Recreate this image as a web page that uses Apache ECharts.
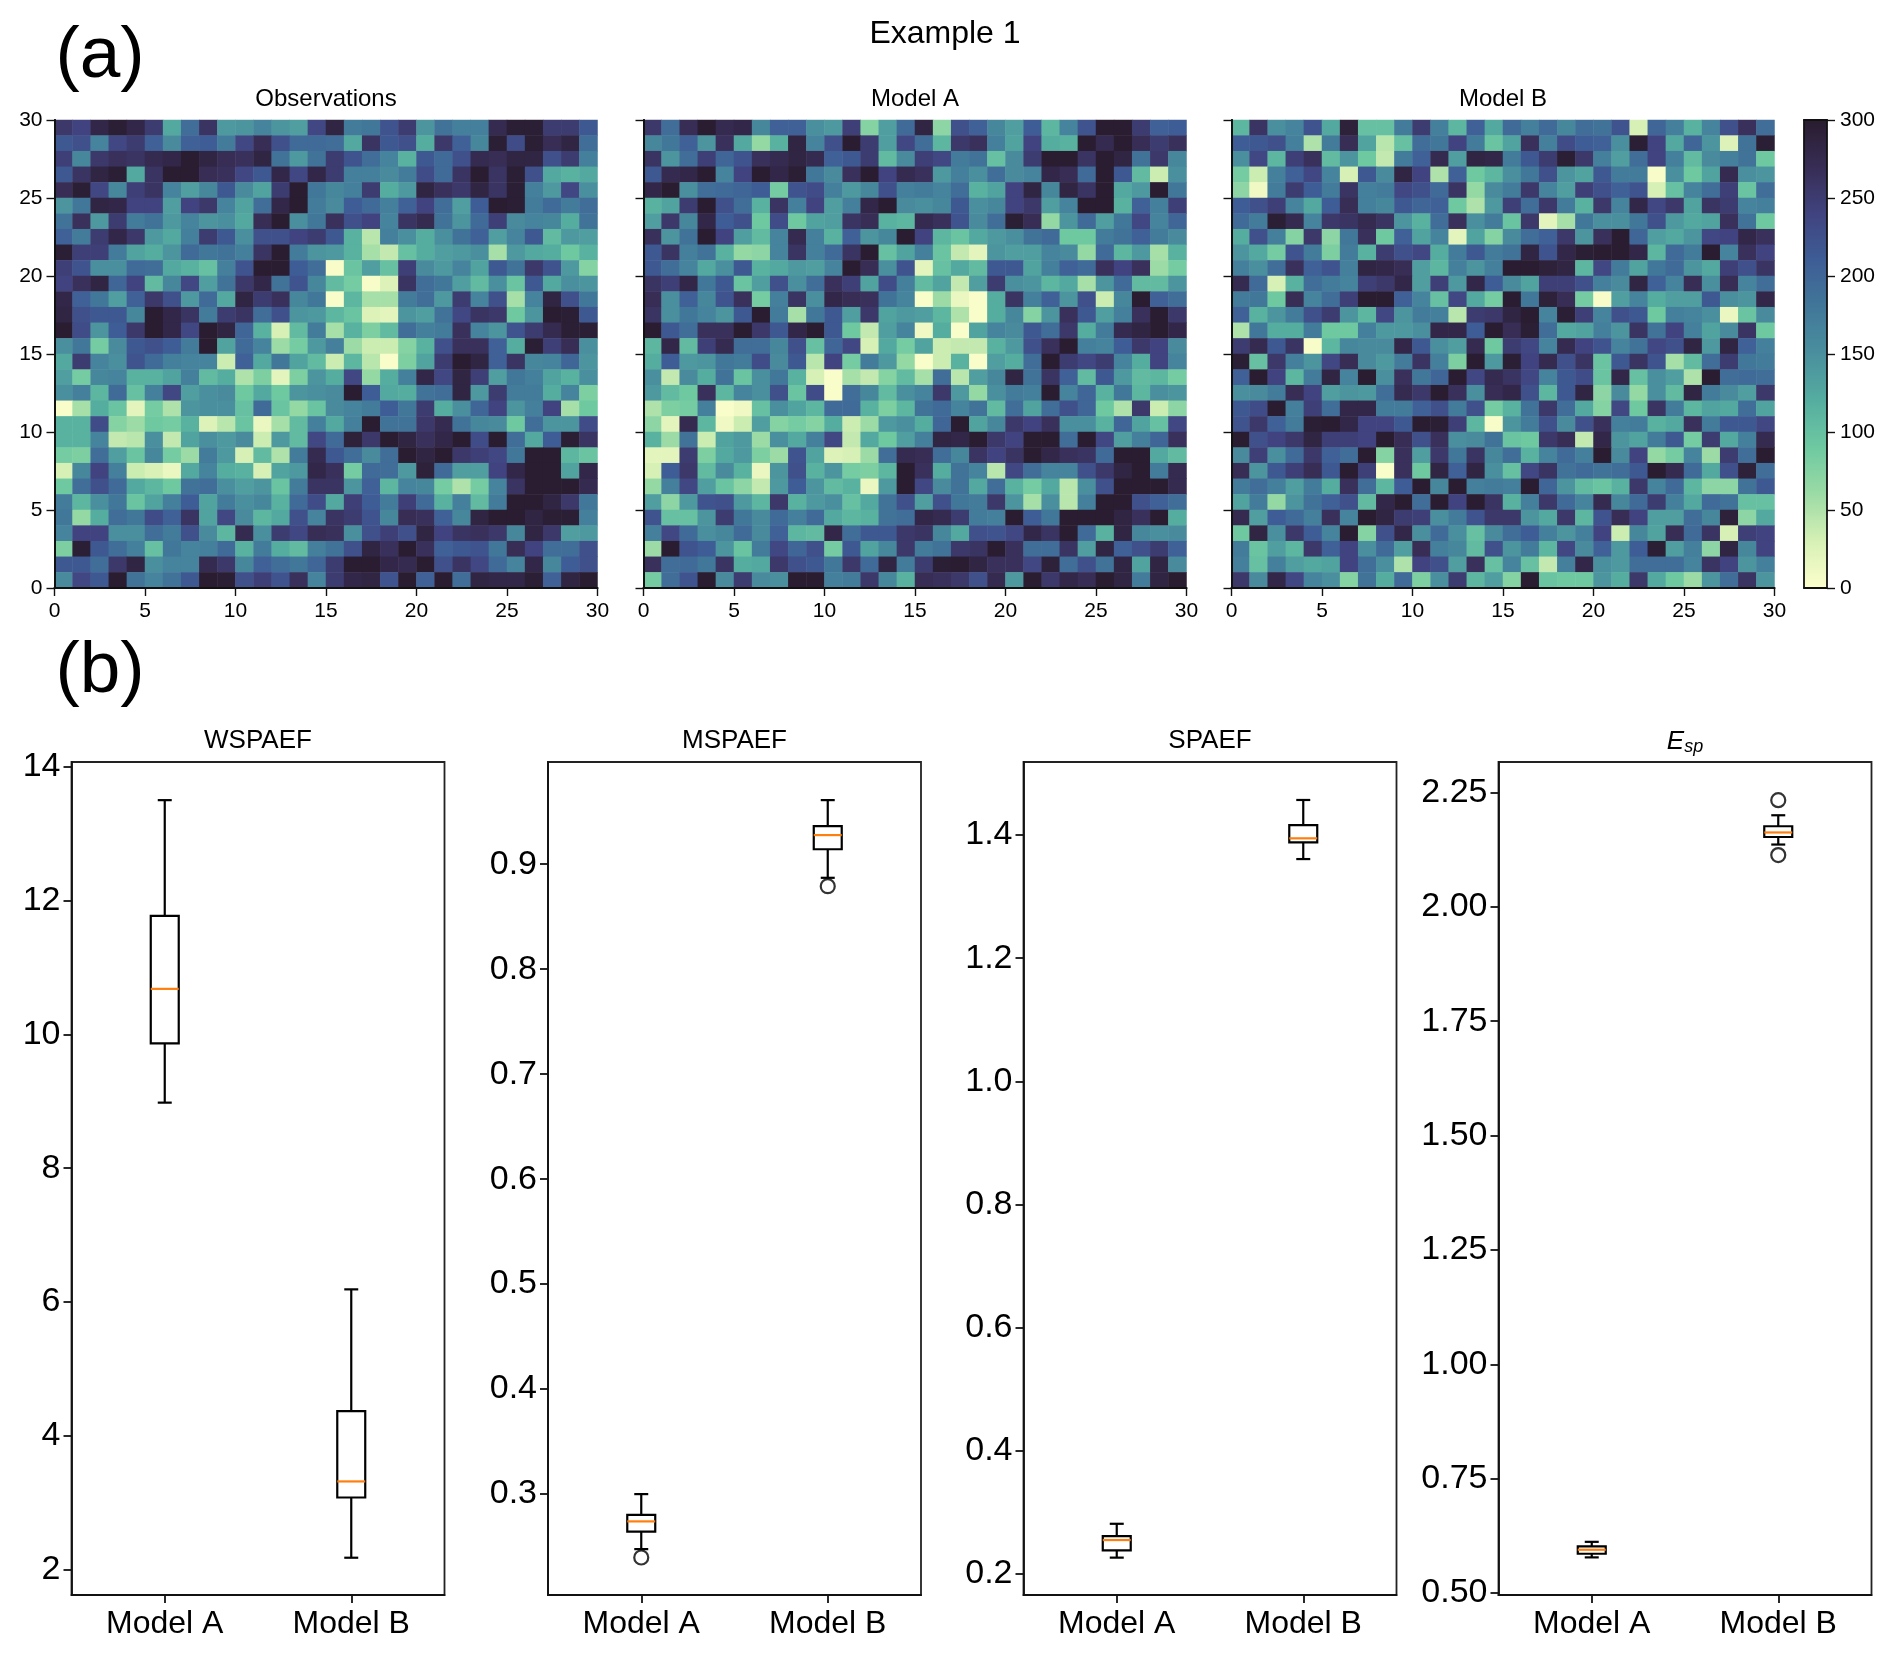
<!DOCTYPE html>
<html><head><meta charset="utf-8">
<style>html,body{margin:0;padding:0;background:#fff}#c{width:1892px;height:1654px}</style>
<script src="https://cdn.jsdelivr.net/npm/echarts@6/dist/echarts.min.js"></script>
</head><body><div id="c"></div>
<script>
const mapTitles=['Observations','Model A','Model B'];
const boxTitles=['WSPAEF','MSPAEF','SPAEF','{e|E}{s|sp}'];
const models=['Model A','Model B'];
const mapTicks=[0,5,10,15,20,25,30];
const cbarTicks=[0,50,100,150,200,250,300];
// rows listed from top (y 29-30) to bottom (y 0-1)
const obsValues=[
[255,240,280,295,280,250,125,190,260,140,145,165,145,135,235,285,175,180,220,250,145,185,170,170,275,295,295,250,250,215],
[215,225,165,235,250,205,155,205,210,175,235,270,225,195,195,190,125,260,215,225,120,255,205,160,295,230,295,270,285,190],
[245,160,255,265,260,275,280,298,285,270,265,285,185,140,185,250,220,190,165,115,215,195,225,275,270,285,285,225,250,170],
[215,260,285,295,125,260,298,298,270,265,235,215,280,235,280,250,170,170,155,175,230,195,260,298,260,295,225,125,115,125],
[270,295,235,160,245,260,165,135,160,215,155,130,250,298,180,160,170,250,120,140,285,265,255,285,260,295,170,140,235,150],
[145,180,285,280,240,240,135,240,255,165,130,190,280,298,175,155,210,195,170,205,240,190,135,210,298,295,175,195,175,190],
[185,265,140,250,175,185,140,165,145,150,125,270,298,150,180,265,225,240,165,260,275,185,145,195,245,155,165,160,120,185],
[205,175,250,280,255,140,125,170,250,215,150,225,225,240,250,215,115,45,170,150,120,150,185,205,135,165,215,105,140,135],
[295,245,245,175,130,120,145,195,180,185,170,260,298,175,145,140,115,55,40,100,120,135,140,150,55,140,125,120,90,115],
[245,220,150,150,195,190,125,115,100,170,220,298,298,210,190,5,95,135,100,245,155,140,165,130,215,185,255,220,140,75],
[240,265,285,200,240,105,160,235,135,185,255,280,185,220,160,105,85,5,25,260,190,180,135,105,150,95,215,125,150,145],
[280,205,180,135,205,255,225,140,195,125,285,250,265,160,180,3,110,55,55,175,190,140,250,165,225,55,165,285,225,180],
[285,225,215,215,160,298,280,260,175,250,260,190,225,145,140,110,95,25,20,145,135,185,235,260,255,90,145,298,295,215],
[298,230,145,210,255,298,280,235,298,285,200,115,30,105,175,55,115,80,105,190,170,175,265,165,145,220,250,275,295,295],
[150,180,85,155,215,225,210,175,298,130,195,165,60,85,140,170,60,35,35,75,115,225,265,265,205,120,295,245,270,150],
[125,250,165,150,220,195,170,165,165,35,205,125,180,130,105,35,110,45,3,80,130,250,298,285,205,260,160,165,200,145],
[135,85,160,165,115,115,130,170,105,120,50,80,20,80,145,120,235,65,120,170,280,235,285,245,135,180,170,130,115,150],
[150,170,110,195,100,170,235,135,150,155,90,125,90,145,150,155,298,210,125,120,185,190,285,140,250,175,175,120,165,80],
[3,55,120,95,20,85,50,145,150,150,100,195,95,65,95,155,165,175,210,180,250,120,150,200,240,145,170,240,55,90],
[115,115,230,75,60,90,85,115,25,45,95,15,55,105,170,125,170,298,185,185,255,275,185,160,155,90,190,145,145,230],
[115,115,165,40,45,150,40,130,150,140,155,35,140,105,235,195,290,255,298,285,265,280,298,230,298,190,125,210,295,260],
[85,80,190,135,95,160,85,60,175,140,30,105,50,175,275,215,190,155,190,298,285,298,255,245,235,180,298,298,110,95],
[30,160,240,170,35,28,15,125,165,120,115,30,130,140,280,265,85,195,190,140,290,195,135,135,240,280,298,298,130,280],
[90,190,225,195,125,110,90,185,190,150,135,145,95,175,260,260,145,205,110,165,160,85,50,85,165,260,298,298,298,275],
[175,110,150,180,95,130,170,210,130,175,150,160,115,195,230,125,245,210,175,245,195,115,170,105,175,298,298,285,255,180],
[180,65,120,190,180,230,205,260,130,235,155,110,125,225,165,260,250,220,160,270,265,205,160,285,298,298,285,295,295,170],
[165,240,240,150,150,190,175,225,155,110,275,150,250,235,270,265,150,225,245,225,285,240,260,265,255,160,285,255,135,140],
[80,295,215,190,170,100,180,165,170,195,115,175,120,105,170,185,225,285,265,298,265,205,215,220,180,270,240,190,190,225],
[215,215,190,255,285,150,165,165,275,255,160,205,190,180,200,250,298,298,280,275,298,225,260,235,195,165,280,160,210,225],
[155,235,215,298,185,165,185,215,298,295,225,245,220,265,165,250,280,285,220,298,205,298,190,285,280,280,295,205,285,298]
];
const modelAValues=[
[255,190,270,298,275,280,160,205,205,150,140,245,75,135,195,285,70,225,205,160,135,210,110,165,220,298,298,250,205,210],
[160,180,205,145,265,125,65,115,285,165,225,298,250,135,235,190,110,255,265,170,130,240,120,115,298,275,298,270,250,265],
[260,145,190,245,200,220,265,275,285,275,205,215,250,105,155,245,235,175,185,100,155,250,298,298,260,298,285,185,255,160],
[215,275,280,298,165,240,298,280,295,180,155,265,298,240,275,265,140,170,150,190,155,165,280,270,195,298,215,105,35,150],
[280,298,150,190,195,200,210,85,220,230,170,140,160,225,170,175,165,190,115,130,240,285,160,285,260,298,125,140,298,180],
[115,130,250,298,225,190,115,260,170,240,135,170,280,298,155,150,160,215,150,160,240,255,135,165,298,298,115,205,170,245],
[135,255,160,280,210,225,90,230,90,130,135,260,270,115,110,275,265,220,155,190,295,270,65,145,195,135,180,235,165,200],
[265,145,185,298,240,135,105,165,275,170,115,205,145,160,298,240,110,95,125,140,150,185,195,90,90,175,185,205,175,155],
[215,260,170,185,115,65,70,165,260,170,195,260,298,100,130,170,95,40,20,145,135,135,165,155,65,195,110,140,55,115],
[215,190,165,125,150,215,115,125,140,135,165,298,270,150,220,20,100,125,105,215,215,130,170,205,195,265,240,265,60,85],
[260,245,280,180,215,95,135,225,150,190,265,245,130,230,170,105,130,40,135,250,150,145,110,125,55,145,195,105,105,145],
[270,150,205,160,220,265,85,170,260,150,280,270,265,185,165,3,60,15,3,120,260,170,205,145,225,35,160,298,205,190],
[260,150,180,165,145,215,298,175,55,180,215,135,255,130,140,135,110,50,3,120,160,75,145,265,215,135,170,265,298,255],
[298,215,190,265,265,298,255,215,280,298,215,90,40,135,165,10,120,3,130,165,155,215,190,255,120,175,275,285,298,280],
[110,280,105,245,275,190,190,160,225,100,200,235,30,125,85,130,35,40,40,115,140,225,265,298,170,165,210,255,240,155],
[120,210,140,145,180,175,230,155,215,45,240,85,175,140,65,3,35,115,3,135,120,190,298,250,235,250,165,120,240,165],
[150,40,155,120,185,95,150,180,115,30,3,55,40,75,105,55,190,45,135,160,285,185,260,205,105,215,140,105,110,85],
[140,105,90,265,110,165,150,225,95,230,3,190,160,105,150,165,255,140,65,150,175,170,298,165,200,115,180,110,150,145],
[50,80,85,170,3,10,100,150,130,110,195,195,115,80,110,185,195,165,185,105,190,130,190,225,200,90,50,255,35,70],
[70,20,275,110,10,35,135,75,85,75,120,35,60,140,150,120,200,298,130,160,255,240,265,150,150,115,200,130,100,235],
[115,60,185,35,130,140,60,150,125,170,235,40,125,90,135,170,285,280,298,255,240,298,298,190,298,235,135,170,200,265],
[20,20,250,80,125,140,80,60,220,130,25,30,60,190,275,270,190,160,260,240,260,298,280,265,260,195,298,298,125,105],
[30,210,255,105,155,115,15,145,225,115,145,85,80,110,298,265,120,185,165,45,235,190,165,165,225,255,285,298,175,275],
[65,170,235,135,95,70,40,140,210,145,105,115,15,140,298,235,155,185,125,190,115,85,125,45,150,225,298,298,298,275],
[135,70,140,220,225,140,110,255,115,140,150,100,125,185,225,135,225,180,175,255,145,55,150,45,170,298,298,225,205,190],
[220,100,100,145,250,180,155,195,170,195,125,110,115,185,190,280,275,250,175,170,298,210,180,298,298,298,285,265,298,120],
[170,235,195,150,160,195,155,205,110,105,280,190,215,215,255,260,160,125,225,220,235,280,260,298,195,115,285,160,150,155],
[60,298,220,210,145,95,175,235,200,225,85,215,130,160,255,175,185,255,260,298,265,190,190,260,135,285,205,225,250,205],
[265,190,195,180,260,120,125,255,225,215,180,255,195,285,175,250,295,298,285,265,265,235,290,190,225,185,285,130,285,155],
[85,190,220,298,155,250,155,150,298,298,170,175,255,160,115,270,265,255,225,275,140,298,255,280,270,298,285,175,285,298]
];
const modelBValues=[
[110,260,150,165,220,125,290,100,100,175,250,170,110,205,125,195,170,195,160,190,185,220,30,200,170,115,165,225,265,190],
[210,215,225,170,50,175,270,130,45,100,190,180,240,175,95,130,265,170,230,210,205,150,295,240,125,200,145,25,185,295],
[150,235,110,245,265,105,145,90,40,175,205,275,135,285,280,175,215,250,295,255,170,135,190,240,170,105,155,170,185,90],
[85,35,170,205,235,165,30,215,155,285,240,50,205,90,110,150,180,225,145,130,215,175,175,5,150,90,130,275,150,145],
[70,10,175,250,210,175,260,170,175,235,225,195,260,65,155,175,255,165,135,245,225,205,220,30,100,165,190,245,95,190],
[210,225,245,165,125,210,270,170,160,215,200,205,90,50,140,245,190,255,175,115,255,165,280,235,255,130,260,250,165,170],
[195,175,295,275,165,255,260,275,260,145,115,190,265,150,175,95,255,20,55,180,150,150,180,225,140,125,130,265,185,90],
[120,225,170,75,255,70,180,265,90,205,130,165,20,130,75,155,190,205,255,145,265,298,200,135,125,145,235,240,280,265],
[145,125,85,220,175,80,175,115,250,225,235,120,175,215,175,185,285,220,280,295,298,298,280,110,195,175,298,165,265,240],
[170,150,190,265,205,220,170,285,280,270,135,110,170,145,170,298,298,290,285,110,235,175,130,180,195,145,125,245,225,260],
[275,195,30,115,190,175,165,245,255,280,135,245,140,280,210,155,130,245,245,225,170,155,285,205,165,270,150,270,165,190],
[175,180,90,270,165,190,245,298,298,205,165,100,235,125,85,298,180,290,270,85,5,135,165,120,135,135,215,150,145,280],
[205,115,145,175,225,250,145,110,235,145,175,170,45,250,255,285,298,165,295,245,165,225,215,90,170,165,150,15,95,155],
[50,180,120,120,175,90,90,170,140,140,150,280,280,210,298,270,295,190,125,130,170,145,260,185,240,170,130,155,260,90],
[250,275,215,260,5,110,160,155,155,280,215,150,135,275,90,250,235,165,275,240,220,165,185,235,225,285,140,285,205,170],
[295,100,255,170,145,235,270,155,140,175,260,170,80,298,140,295,240,275,225,260,95,215,260,220,55,105,190,250,180,175],
[205,298,240,110,175,285,165,298,150,265,180,200,298,235,275,260,235,165,215,230,95,280,100,150,135,50,298,190,195,190],
[150,155,175,270,240,135,145,140,190,275,255,298,265,150,270,280,225,110,215,285,70,155,65,150,105,285,175,155,135,255],
[215,230,298,170,245,190,280,280,175,175,205,225,175,225,85,115,185,255,190,125,75,235,90,260,175,110,130,125,190,130],
[220,255,205,175,295,298,280,240,240,215,298,295,245,110,5,145,175,225,155,225,265,170,175,115,125,265,175,215,215,235],
[298,225,240,255,285,245,245,240,298,270,225,265,150,155,185,95,90,255,270,40,280,145,130,175,215,85,250,125,170,275],
[155,245,150,195,255,205,190,298,75,265,135,255,180,260,160,190,115,165,195,170,298,155,240,65,85,165,60,250,190,298],
[270,145,215,245,270,215,298,245,3,265,90,285,205,285,150,100,235,260,185,195,185,190,215,298,275,195,125,225,290,190],
[175,190,170,135,175,120,265,190,110,210,298,160,298,170,175,170,298,200,145,105,95,115,255,165,195,110,70,70,185,215],
[130,175,65,145,185,205,225,105,280,298,190,298,240,298,260,115,170,255,195,165,275,160,195,250,170,125,195,185,100,100],
[275,135,210,195,170,265,165,298,285,250,245,150,175,220,255,255,145,125,255,110,220,270,240,135,135,190,160,290,70,125],
[90,285,150,255,210,165,298,75,225,280,150,195,150,100,155,190,210,170,145,170,240,35,160,130,270,195,260,30,245,240],
[175,95,135,110,255,205,240,150,195,135,270,170,160,105,225,145,175,110,235,155,205,140,210,295,135,170,70,285,160,240],
[170,100,170,135,125,130,240,190,150,50,240,225,135,265,100,165,100,40,170,280,150,140,190,190,190,165,260,240,145,170],
[255,155,280,235,165,150,75,185,120,195,80,150,250,110,135,75,298,95,90,90,145,120,255,125,90,60,145,190,260,145]
];
// each box: [category index, low whisker, Q1, median, Q3, high whisker]
const wspaefBoxes=[[0,8.98,9.865,10.68,11.77,13.5],[1,2.18,3.08,3.32,4.37,6.19]];
const mspaefBoxes=[[0,0.2476,0.2643,0.274,0.2803,0.30],[1,0.887,0.9142,0.9277,0.9363,0.961]];
const spaefBoxes=[[0,0.226,0.2378,0.2546,0.261,0.281],[1,1.361,1.388,1.3947,1.416,1.457]];
const espBoxes=[[0,0.578,0.586,0.5947,0.602,0.612],[1,2.136,2.1525,2.1624,2.176,2.2]];
const wspaefOutliers=[];
const mspaefOutliers=[[0,0.2396],[1,0.879]];
const spaefOutliers=[];
const espOutliers=[[1,2.233],[1,2.113]];
const wspaefTicks=[2,4,6,8,10,12,14];
const mspaefTicks=[0.3,0.4,0.5,0.6,0.7,0.8,0.9];
const spaefTicks=[0.2,0.4,0.6,0.8,1.0,1.2,1.4];
const espTicks=[0.5,0.75,1.0,1.25,1.5,1.75,2.0,2.25];

const FONT='"Liberation Sans",Arial,sans-serif', INK='#111111';
const DEEP=['#fdfecc','#d6f0b5','#9cdba5','#6ec9a1','#55ada0','#4a8f9e','#417799','#3e5d96','#40437f','#372d55','#291c2e'];
const mapLefts=[54.5,643.5,1231.5], mapTop=120, mapW=543, mapH=468;
const boxLefts=[71.5,548,1023.5,1498.5], boxTop=762, boxW=373, boxH=833;
const boxRanges=[[1.623,14.07],[0.2039,0.9973],[0.1653,1.5187],[0.4958,2.3164]];
const boxDigits=[0,1,1,2];
const boxSets=[wspaefBoxes,mspaefBoxes,spaefBoxes,espBoxes];
const outSets=[wspaefOutliers,mspaefOutliers,spaefOutliers,espOutliers];
const tickSets=[wspaefTicks,mspaefTicks,spaefTicks,espTicks];
const idx30=Array.from({length:30},(_,i)=>i);
const line=(w=1.8)=>({lineStyle:{color:INK,width:w}});

const grid=[],xAxis=[],yAxis=[],series=[],title=[];
const text=(t,x,y,size,extra={})=>title.push({text:t,left:x,top:y,textAlign:'center',textVerticalAlign:'middle',padding:0,
  textStyle:Object.assign({fontFamily:FONT,fontSize:size,fontWeight:'normal',color:'#000'},extra)});
text('Example 1',945,34,32);
text('(a)',100,57,73);
text('(b)',100,672,73);

[obsValues,modelAValues,modelBValues].forEach((rows,k)=>{
  const g=grid.length;
  grid.push({left:mapLefts[k],top:mapTop,width:mapW,height:mapH,show:false});
  text(mapTitles[k],mapLefts[k]+mapW/2,99,24);
  const xi=xAxis.length, yi=yAxis.length;
  xAxis.push({type:'category',gridIndex:g,position:'top',data:idx30,z:5,axisLine:Object.assign({show:true},line()),axisTick:{show:false},axisLabel:{show:false},splitLine:{show:false}});
  xAxis.push({type:'value',gridIndex:g,position:'bottom',min:0,max:30,interval:5,z:5,axisLine:Object.assign({show:true,onZero:false},line()),
    axisTick:Object.assign({show:true,length:8},line(1.4)),axisLabel:{show:true,fontFamily:FONT,fontSize:21,color:'#000',margin:13},splitLine:{show:false}});
  yAxis.push({type:'category',gridIndex:g,position:'right',data:idx30,z:5,axisLine:Object.assign({show:true},line()),axisTick:{show:false},axisLabel:{show:false},splitLine:{show:false}});
  yAxis.push({type:'value',gridIndex:g,position:'left',min:0,max:30,interval:5,z:5,axisLine:Object.assign({show:true,onZero:false},line()),
    axisTick:Object.assign({show:true,length:8},line(1.4)),axisLabel:{show:k===0,fontFamily:FONT,fontSize:21,color:'#000',margin:12},splitLine:{show:false}});
  const data=[];
  rows.forEach((r,ri)=>r.forEach((v,ci)=>data.push([ci,29-ri,v])));
  series.push({type:'heatmap',xAxisIndex:xi,yAxisIndex:yi,data,silent:true,progressive:0,emphasis:{disabled:true}});
});

// colour bar frame and ticks
{
  const g=grid.length;
  grid.push({left:1804,top:mapTop,width:23,height:mapH,show:false});
  xAxis.push({type:'value',gridIndex:g,position:'top',min:0,max:1,z:5,axisLine:Object.assign({show:true,onZero:false},line()),axisTick:{show:false},axisLabel:{show:false},splitLine:{show:false}});
  xAxis.push({type:'value',gridIndex:g,position:'bottom',min:0,max:1,z:5,axisLine:Object.assign({show:true,onZero:false},line()),axisTick:{show:false},axisLabel:{show:false},splitLine:{show:false}});
  yAxis.push({type:'value',gridIndex:g,position:'left',min:0,max:300,interval:50,z:5,axisLine:Object.assign({show:true,onZero:false},line()),axisTick:{show:false},axisLabel:{show:false},splitLine:{show:false}});
  yAxis.push({type:'value',gridIndex:g,position:'right',min:0,max:300,interval:50,z:5,axisLine:Object.assign({show:true,onZero:false},line()),
    axisTick:Object.assign({show:true,length:8},line(1.4)),axisLabel:{show:true,fontFamily:FONT,fontSize:21,color:'#000',margin:13},splitLine:{show:false}});
}

function drawBox(params,api){
  const [x,lo,q1,med,q3,hi]=[0,1,2,3,4,5].map(i=>api.value(i));
  const band=api.size([1,0])[0], bw=band*0.15, cw=bw/2;
  const p=v=>api.coord([x,v]), cx=p(lo)[0];
  const seg=(a,b,ya,yb,color)=>({type:'line',shape:{x1:a,y1:ya,x2:b,y2:yb},style:{stroke:color,lineWidth:2.2,fill:null}});
  const yl=p(lo)[1],y1=p(q1)[1],ym=p(med)[1],y3=p(q3)[1],yh=p(hi)[1];
  return {type:'group',children:[
    seg(cx,cx,yl,y1,'#000'),seg(cx,cx,y3,yh,'#000'),
    seg(cx-cw/2,cx+cw/2,yl,yl,'#000'),seg(cx-cw/2,cx+cw/2,yh,yh,'#000'),
    {type:'rect',shape:{x:cx-bw/2,y:y3,width:bw,height:y1-y3},style:{stroke:'#000',lineWidth:2.2,fill:'#fff'}},
    seg(cx-bw/2,cx+bw/2,ym,ym,'#ff7f0e')
  ]};
}
boxSets.forEach((boxes,k)=>{
  const g=grid.length;
  grid.push({left:boxLefts[k],top:boxTop,width:boxW,height:boxH,show:true,backgroundColor:'#fff',borderColor:'#222',borderWidth:1.8});
  const titleExtra=k===3?{rich:{e:{fontFamily:FONT,fontStyle:'italic',fontSize:26,color:'#000'},s:{fontFamily:FONT,fontStyle:'italic',fontSize:18,color:'#000',verticalAlign:'bottom',padding:[10,0,0,0]}}}:{};
  text(boxTitles[k],boxLefts[k]+boxW/2,k===3?742:741,26,titleExtra);
  const xi=xAxis.length, yi=yAxis.length;
  xAxis.push({type:'category',gridIndex:g,data:models,position:'bottom',axisLine:Object.assign({show:true,onZero:false},line()),
    axisTick:Object.assign({show:true,length:8,alignWithLabel:true},line(1.8)),axisLabel:{show:true,interval:0,fontFamily:FONT,fontSize:32,color:'#000',margin:13},splitLine:{show:false}});
  const digits=boxDigits[k], fmt=v=>Number(v).toFixed(digits);
  yAxis.push({type:'value',gridIndex:g,min:boxRanges[k][0],max:boxRanges[k][1],position:'left',axisLine:Object.assign({show:true,onZero:false},line()),
    axisTick:Object.assign({show:true,length:8,customValues:tickSets[k]},line(1.8)),
    axisLabel:{show:true,customValues:tickSets[k],formatter:fmt,fontFamily:FONT,fontSize:34,color:'#000',margin:11},splitLine:{show:false}});
  series.push({type:'custom',xAxisIndex:xi,yAxisIndex:yi,data:boxes,renderItem:drawBox,silent:true,encode:{x:0,y:[1,2,3,4,5]}});
  if(outSets[k].length) series.push({type:'scatter',xAxisIndex:xi,yAxisIndex:yi,data:outSets[k],symbol:'circle',symbolSize:14,silent:true,
    itemStyle:{color:'rgba(255,255,255,0)',borderColor:'#000',borderWidth:2.2}});
});

const chart=echarts.init(document.getElementById('c'),null,{renderer:'canvas',width:1892,height:1654});
chart.setOption({animation:false,backgroundColor:'#fff',title,grid,xAxis,yAxis,series,tooltip:{show:false},
  visualMap:[{type:'continuous',min:0,max:300,seriesIndex:[0,1,2],show:true,calculable:false,realtime:false,left:1804,top:mapTop,padding:0,itemWidth:23,itemHeight:mapH,
    text:null,showLabel:false,hoverLink:false,inRange:{color:DEEP},textStyle:{color:'rgba(0,0,0,0)',fontSize:1}}]});
</script></body></html>
